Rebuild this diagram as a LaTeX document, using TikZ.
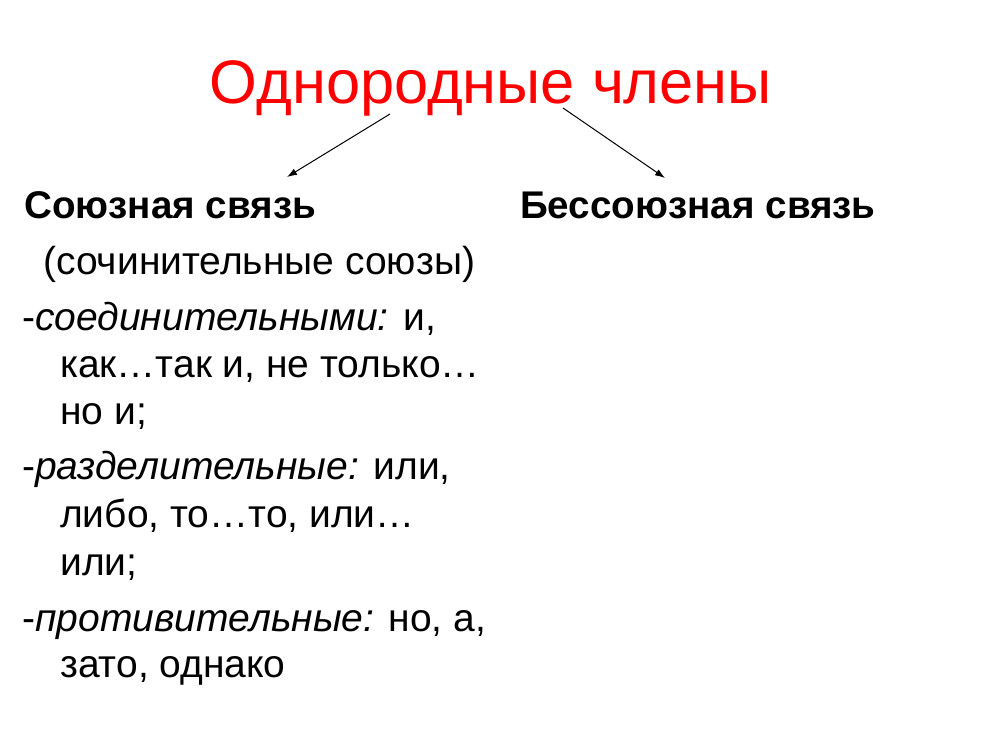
\documentclass[tikz,border=0pt]{standalone}
\usepackage{fontspec}
\setmainfont{Liberation Sans}
\usetikzlibrary{arrows.meta}
\tikzset{
    title/.style={anchor=base, inner sep=0pt, text=red, font=\fontsize{61.4}{68}\selectfont},
    head/.style={anchor=base west, inner sep=0pt, font=\bfseries\fontsize{38.6}{44}\selectfont},
    line/.style={anchor=base west, inner sep=0pt, font=\fontsize{39}{46}\selectfont},
    dedge/.style={->,> = {Latex[length=10pt,width=7pt]}, draw=black, line width=1pt},
}

\begin{document}
\begin{tikzpicture}[x=1pt,y=1pt]
\useasboundingbox (0,0) rectangle (1000,-750);
\node[title] (top) at (491,-103) {Однородные члены};
\node[head] (sv) at (24,-218) {Союзная связь};
\node[head] (bsv) at (520,-218) {Бессоюзная связь};
\node[line] (l1) at (43,-274) {(сочинительные союзы)};
\node[line] (l2) at (22,-330) {-\textit{соединительными:} и,};
\node[line] (l3) at (60,-377) {как…так и, не только…};
\node[line] (l4) at (60,-424) {но и;};
\node[line] (l5) at (22,-479) {-\textit{разделительные:} или,};
\node[line] (l6) at (60,-527) {либо, то…то, или…};
\node[line] (l7) at (60,-575) {или;};
\node[line] (l8) at (22,-631) {-\textit{противительные:} но, а,};
\node[line] (l9) at (60,-677) {зато, однако};
\coordinate (a1) at (390,-114);
\coordinate (a2) at (287,-177);
\coordinate (b1) at (563,-108);
\coordinate (b2) at (665,-178);
\draw[dedge] (a1) -- (a2);
\draw[dedge] (b1) -- (b2);
\end{tikzpicture}
\end{document}
